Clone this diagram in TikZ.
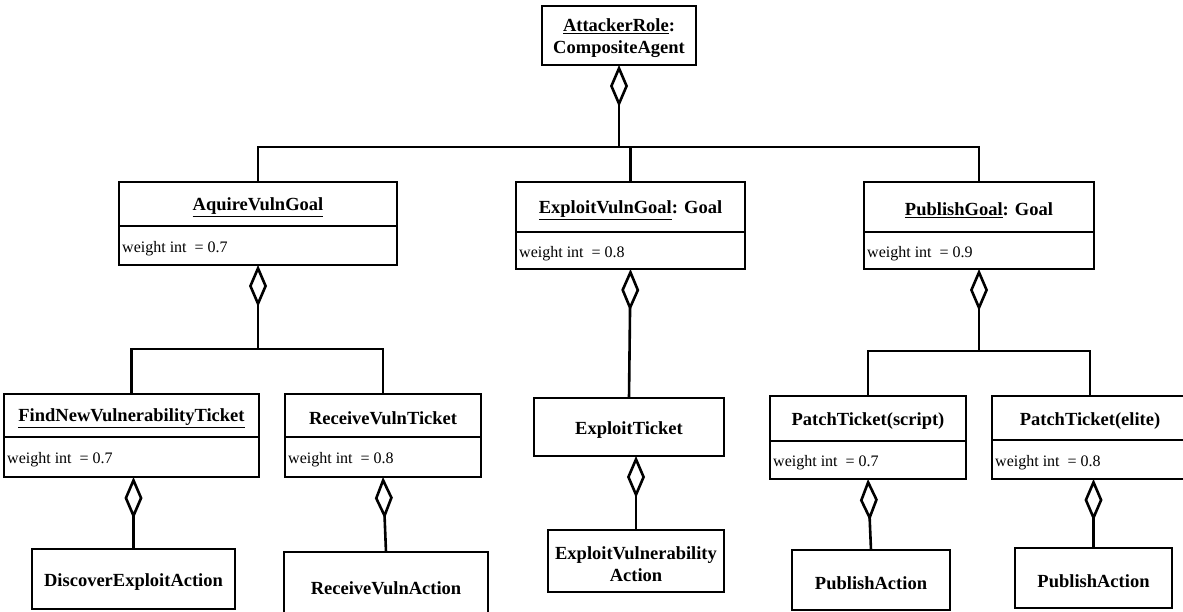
\documentclass[tikz,border=0pt]{standalone}
\usepackage{fontspec}
\setmainfont{Liberation Serif}
\usetikzlibrary{arrows.meta}
\tikzset{
  box/.style={draw, line width=1.2pt, inner sep=0pt, outer sep=0pt, fill=white},
  thickbox/.style={box, line width=2.6pt},
  divline/.style={line width=2pt},
  titletext/.style={inner sep=0pt, yshift=-3pt, font=\bfseries\fontsize{18.5}{22}\selectfont, align=center},
  wtext/.style={inner sep=0pt, yshift=-3pt, anchor=west, font=\fontsize{16}{19}\selectfont},
  conn/.style={line width=2.6pt, line join=miter},
  agg/.style={conn, -{Diamond[open, length=42pt, width=18pt]}},
}
\newcommand\umlbox[8]{%
  \node[box, minimum width={#4-#2}, minimum height={#6-#3}] (#1) at ({(#2+#4)/2},{(#3+#6)/2}) {};
  \draw[divline] (#2,#5) -- (#4,#5);
  \node[titletext] (#1-title) at ({(#2+#4)/2},{(#3+#5)/2}) {#7};
  \node[wtext] (#1-weight) at ({#2+3},{(#5+#6)/2}) {#8};
}
\newcommand\simplebox[7]{%
  \node[#7, minimum width={#4-#2}, minimum height={#5-#3}] (#1) at ({(#2+#4)/2},{(#3+#5)/2}) {};
  \node[titletext] (#1-text) at (#1.center) {#6};
}
\begin{document}
\begin{tikzpicture}[x=1pt,y=-1pt]
\useasboundingbox (0,0) rectangle (1183,611);
% root
\simplebox{root}{542}{6}{696}{65}{\underline{AttackerRole}:\\CompositeAgent}{box}
% level 2
\umlbox{aq}{119}{182}{397}{226}{265}{\underline{AquireVulnGoal}}{weight int\ \ = 0.7}
\umlbox{ev}{516}{182}{745}{232}{269}{\underline{ExploitVulnGoal}: Goal}{weight int\ \ = 0.8}
\umlbox{pg}{864}{182}{1094}{232}{269}{\underline{PublishGoal}: Goal}{weight int\ \ = 0.9}
% level 3
\umlbox{fn}{4}{394}{259}{437}{477}{\underline{FindNewVulnerabilityTicket}}{weight int\ \ = 0.7}
\umlbox{rv}{285}{394}{481}{437}{477}{ReceiveVulnTicket}{weight int\ \ = 0.8}
\simplebox{et}{534}{398}{724}{456}{ExploitTicket}{thickbox}
\umlbox{ps}{770}{396}{966}{441}{479}{PatchTicket(script)}{weight int\ \ = 0.7}
\umlbox{pe}{992}{396}{1188}{440}{479}{PatchTicket(elite)}{weight int\ \ = 0.8}
% level 4
\simplebox{dx}{32}{549}{235}{609}{DiscoverExploitAction}{box}
\simplebox{ra}{284}{552}{488}{618}{ReceiveVulnAction}{box}
\simplebox{eva}{548}{530}{724}{592}{ExploitVulnerability\\Action}{box}
\simplebox{pa1}{792}{550}{950}{610}{PublishAction}{box}
\simplebox{pa2}{1015}{548}{1172}{608}{PublishAction}{box}
% connectors
\coordinate (j1) at (619,147);
\coordinate (j2) at (258,349);
\coordinate (j3) at (979,351);
\draw[agg] (j1) -- (root.south);
\draw[conn] (aq.north) |- (j1);
\draw[conn] (ev.north) |- (j1);
\draw[conn] (pg.north) |- (j1);
\draw[agg] (j2) -- (aq.south);
\draw[conn] (fn.north) |- (j2);
\draw[conn] (rv.north) |- (j2);
\draw[agg] (j3) -- (pg.south);
\draw[conn] (ps.north) |- (j3);
\draw[conn] (pe.north) |- (j3);
\draw[agg] (et.north) -- (ev.south);
\draw[agg] (eva.north) -- (eva.north |- et.south);
\draw[agg] (dx.north) -- (dx.north |- fn.south);
\draw[agg] (ra.north) -- (rv.south);
\draw[agg] (pa1.north) -- (ps.south);
\draw[agg] (pa2.north) -- (pa2.north |- pe.south);
\end{tikzpicture}
\end{document}
